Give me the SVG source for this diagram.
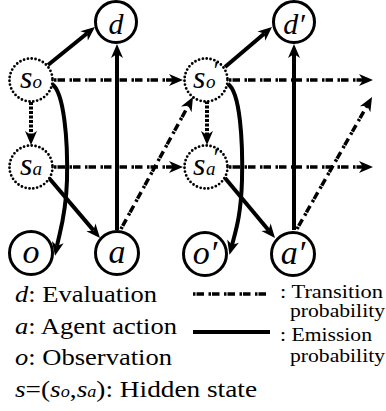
<svg xmlns="http://www.w3.org/2000/svg" width="386" height="411" viewBox="0 0 386 411">
<defs>
<marker id="ah" markerUnits="userSpaceOnUse" markerWidth="16" markerHeight="14" refX="4" refY="6" orient="auto" overflow="visible">
<path d="M0,0 L14,6 L0,12 L4,6 Z" fill="#000"/>
</marker>
<style>
.node{fill:#fff;stroke:#000;stroke-width:3}
.hid{fill:#fff;stroke:#000;stroke-width:2.8;stroke-dasharray:0 3.9;stroke-linecap:round}
.emi{fill:none;stroke:#000;stroke-width:4}
.tra{fill:none;stroke:#000;stroke-width:3.5;stroke-dasharray:2.5 1 7.5 4.5}
.dot{fill:none;stroke:#000;stroke-width:4;stroke-dasharray:3 1.5}
.arr{marker-end:url(#ah)}
text{font-family:'Liberation Serif','Times New Roman',serif;fill:#000}
.it{font-style:italic}
</style>
</defs>
<rect width="386" height="411" fill="#fff"/>
<g id="connectors">
<path class="emi arr" d="M48,65 L87.2,33.3"/>
<path class="emi arr" d="M117,230 L117,54"/>
<path class="tra arr" d="M54,80 L173,80"/>
<path class="tra arr" d="M229,80 L363,80"/>
<path class="dot arr" d="M31,102 L31,135"/>
<path class="tra arr" d="M54,167 L173,167"/>
<path class="tra arr" d="M229,167 L363,167"/>
<path class="emi arr" d="M49,178 L93.5,230.4"/>
<path class="tra arr" d="M121,229 L188.2,105.8"/>
<path class="tra arr" d="M297,229 L367.1,105.7"/>
<path class="dot arr" d="M207,101 L207,135"/>
<path class="emi arr" d="M225,67 L264.4,33.5"/>
<path class="emi arr" d="M294,230 L294,54"/>
<path class="emi arr" d="M225,178 L268.6,230.3"/>
<path class="emi arr" d="M52,84 C64,92 68,140 67,180 C66,215 60,231 57,246"/>
<path class="emi arr" d="M228,84 C240,92 243,140 242,180 C241,215 236,230 232,245"/>
</g>
<g id="d">
<circle class="node" cx="116" cy="22" r="20.5"/>
<text class="it" x="116" y="34" font-size="30" text-anchor="middle">d</text>
</g>
<g id="s_o">
<circle class="hid" cx="31" cy="80" r="21.5"/>
<text class="it" x="31" y="88" font-size="32" text-anchor="middle">s<tspan font-size="19">o</tspan></text>
</g>
<g id="s_a">
<circle class="hid" cx="31" cy="167" r="21.5"/>
<text class="it" x="31" y="175" font-size="32" text-anchor="middle">s<tspan font-size="19">a</tspan></text>
</g>
<g id="o">
<circle class="node" cx="31" cy="253" r="21.5"/>
<text class="it" x="31" y="263" font-size="34" text-anchor="middle">o</text>
</g>
<g id="a">
<circle class="node" cx="117" cy="253" r="21.5"/>
<text class="it" x="117" y="263" font-size="34" text-anchor="middle">a</text>
</g>
<g id="d_p">
<circle class="node" cx="294" cy="22" r="20.5"/>
<text class="it" x="294" y="34" font-size="30" text-anchor="middle">d′</text>
</g>
<g id="s_o_p">
<circle class="hid" cx="206" cy="80" r="21.5"/>
<text class="it" x="193" y="88" font-size="32">s<tspan font-size="26" x="212" y="79">′</tspan><tspan font-size="19" x="206" y="88">o</tspan></text>
</g>
<g id="s_a_p">
<circle class="hid" cx="206" cy="167" r="21.5"/>
<text class="it" x="193" y="175" font-size="32">s<tspan font-size="26" x="212" y="166">′</tspan><tspan font-size="19" x="206" y="175">a</tspan></text>
</g>
<g id="o_p">
<circle class="node" cx="205" cy="254" r="21.5"/>
<text class="it" x="205" y="264" font-size="34" text-anchor="middle">o′</text>
</g>
<g id="a_p">
<circle class="node" cx="293" cy="254" r="21.5"/>
<text class="it" x="293" y="264" font-size="34" text-anchor="middle">a′</text>
</g>
<g id="legend">
<text x="15" y="302" font-size="24" textLength="142" lengthAdjust="spacingAndGlyphs"><tspan class="it">d</tspan>: Evaluation</text>
<text x="15" y="334" font-size="24" textLength="162" lengthAdjust="spacingAndGlyphs"><tspan class="it">a</tspan>: Agent action</text>
<text x="15" y="365" font-size="24" textLength="157" lengthAdjust="spacingAndGlyphs"><tspan class="it">o</tspan>: Observation</text>
<text x="15" y="397" font-size="24" textLength="242" lengthAdjust="spacingAndGlyphs"><tspan class="it">s</tspan>=(<tspan class="it">s</tspan><tspan class="it" font-size="16">o</tspan>,<tspan class="it">s</tspan><tspan class="it" font-size="16">a</tspan>): Hidden state</text>
<path class="tra" d="M193,294 L270,294"/>
<path class="emi" d="M193,332 L270,332"/>
<text x="280" y="298" font-size="19" textLength="103" lengthAdjust="spacingAndGlyphs">: Transition</text>
<text x="290" y="317" font-size="19" textLength="95" lengthAdjust="spacingAndGlyphs">probability</text>
<text x="280" y="341" font-size="19" textLength="92" lengthAdjust="spacingAndGlyphs">: Emission</text>
<text x="290" y="362" font-size="19" textLength="95" lengthAdjust="spacingAndGlyphs">probability</text>
</g>
</svg>
